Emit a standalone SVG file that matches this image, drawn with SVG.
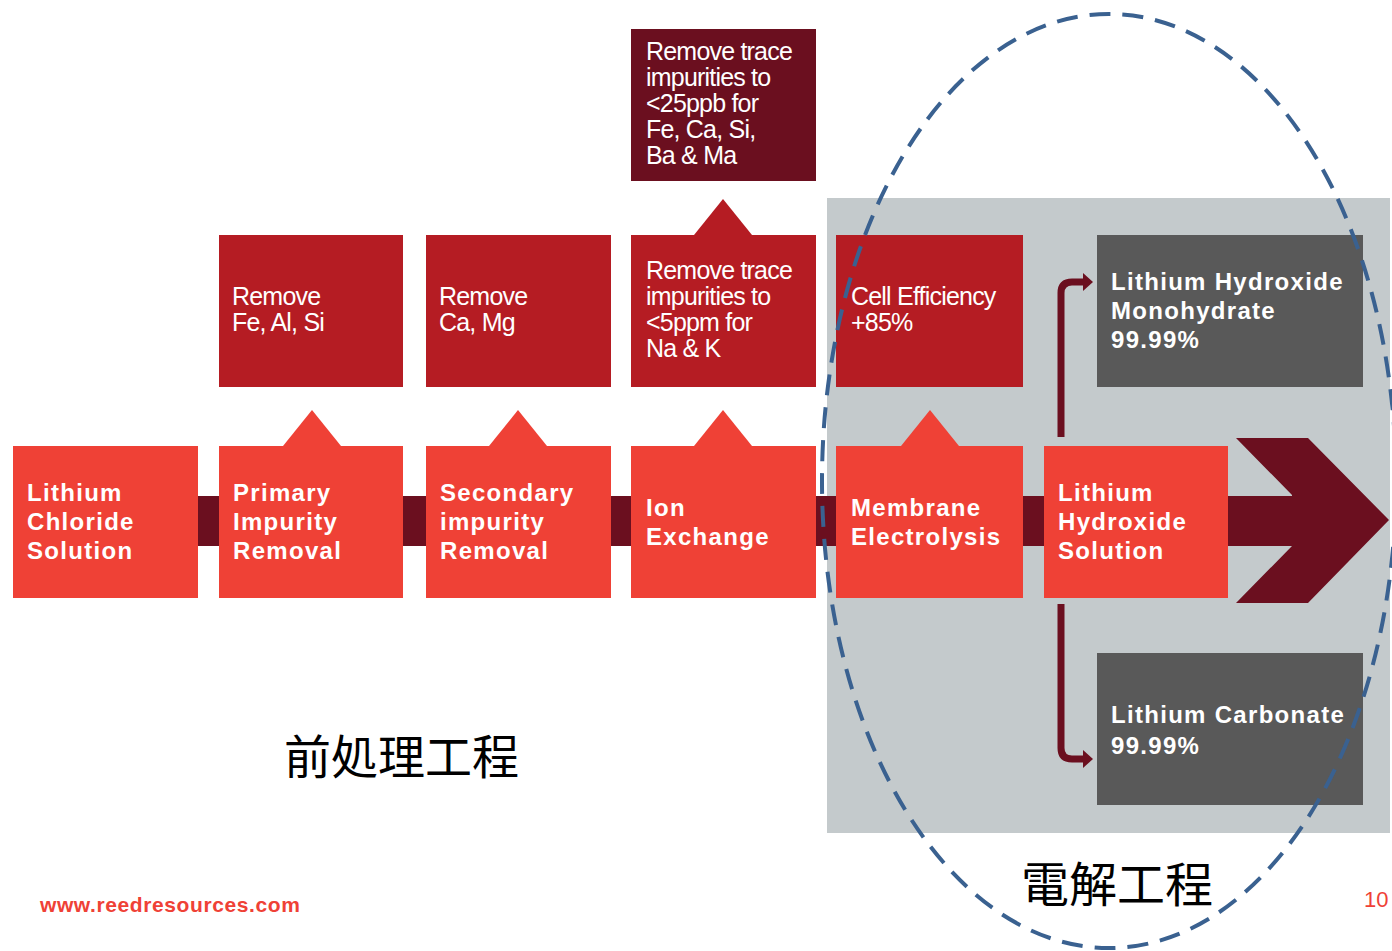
<svg xmlns="http://www.w3.org/2000/svg" width="1392" height="951" viewBox="0 0 1392 951">
<defs>
<style>
.step{fill:#ef4136}
.sub{fill:#b51c23}
.deep{fill:#6b0f1f}
.prod{fill:#595959}
.bt{font-family:"Liberation Sans",Arial,sans-serif;font-weight:bold;font-size:24px;fill:#ffffff;letter-spacing:1.3px}
.rt{font-family:"Liberation Sans",Arial,sans-serif;font-size:25px;fill:#ffffff;letter-spacing:-0.8px}
.cjk{font-family:"Noto Sans CJK JP","Noto Sans CJK SC",sans-serif;fill:#000000}
.conn{fill:none;stroke:#6b0f1f;stroke-width:7}
.foot{font-family:"Liberation Sans",Arial,sans-serif;font-weight:bold;font-size:21px;fill:#ef4136;letter-spacing:0.6px}
.page{font-family:"Liberation Sans",Arial,sans-serif;font-size:22px;fill:#ef4136}
</style>
</defs>
<rect width="1392" height="951" fill="#ffffff"/>
<rect id="electrolysis-area" x="827" y="198" width="563" height="635" fill="#c4cacc"/>
<g id="main-flow">
<rect x="100" y="496" width="1192" height="50" class="deep"/>
<polygon points="1236,438 1308,438 1389,520 1308,603 1236,603 1292,546 1292,495" class="deep"/>
</g>
<g id="connectors">
<path class="conn" d="M1061,437 L1061,293 Q1061,282 1072,282 L1085,282"/>
<polygon points="1083,273 1093,282 1083,291" class="deep"/>
<path class="conn" d="M1061,604 L1061,748 Q1061,759 1072,759 L1085,759"/>
<polygon points="1083,750 1093,759 1083,768" class="deep"/>
</g>
<g id="n-licl">
<rect x="13" y="446" width="185" height="152" class="step"/>
<text class="bt" x="27" y="501">Lithium</text>
<text class="bt" x="27" y="530">Chloride</text>
<text class="bt" x="27" y="559">Solution</text>
</g>
<g id="n-primary">
<rect x="219" y="446" width="184" height="152" class="step"/>
<polygon points="283,446 312,410 341,446" class="step"/>
<text class="bt" x="233" y="501">Primary</text>
<text class="bt" x="233" y="530">Impurity</text>
<text class="bt" x="233" y="559">Removal</text>
</g>
<g id="n-secondary">
<rect x="426" y="446" width="185" height="152" class="step"/>
<polygon points="489,446 518,410 547,446" class="step"/>
<text class="bt" x="440" y="501">Secondary</text>
<text class="bt" x="440" y="530">impurity</text>
<text class="bt" x="440" y="559">Removal</text>
</g>
<g id="n-ion">
<rect x="631" y="446" width="185" height="152" class="step"/>
<polygon points="694,446 723,410 752,446" class="step"/>
<text class="bt" x="646" y="516">Ion</text>
<text class="bt" x="646" y="545">Exchange</text>
</g>
<g id="n-membrane">
<rect x="836" y="446" width="187" height="152" class="step"/>
<polygon points="901,446 930,410 959,446" class="step"/>
<text class="bt" x="851" y="516">Membrane</text>
<text class="bt" x="851" y="545">Electrolysis</text>
</g>
<g id="n-lioh">
<rect x="1044" y="446" width="184" height="152" class="step"/>
<text class="bt" x="1058" y="501">Lithium</text>
<text class="bt" x="1058" y="530">Hydroxide</text>
<text class="bt" x="1058" y="559">Solution</text>
</g>
<g id="n-remove-fe">
<rect x="219" y="235" width="184" height="152" class="sub"/>
<text class="rt" x="232" y="305">Remove</text>
<text class="rt" x="232" y="331">Fe, Al, Si</text>
</g>
<g id="n-remove-ca">
<rect x="426" y="235" width="185" height="152" class="sub"/>
<text class="rt" x="439" y="305">Remove</text>
<text class="rt" x="439" y="331">Ca, Mg</text>
</g>
<g id="n-trace-5ppm">
<rect x="631" y="235" width="185" height="152" class="sub"/>
<polygon points="694,235 723,199 752,235" class="sub"/>
<text class="rt" x="646" y="279">Remove trace</text>
<text class="rt" x="646" y="305">impurities to</text>
<text class="rt" x="646" y="331">&lt;5ppm for</text>
<text class="rt" x="646" y="357">Na &amp; K</text>
</g>
<g id="n-trace-25ppb">
<rect x="631" y="29" width="185" height="152" class="deep"/>
<text class="rt" x="646" y="60">Remove trace</text>
<text class="rt" x="646" y="86">impurities to</text>
<text class="rt" x="646" y="112">&lt;25ppb for</text>
<text class="rt" x="646" y="138">Fe, Ca, Si,</text>
<text class="rt" x="646" y="164">Ba &amp; Ma</text>
</g>
<g id="n-cell">
<rect x="836" y="235" width="187" height="152" class="sub"/>
<text class="rt" x="851" y="305">Cell Efficiency</text>
<text class="rt" x="851" y="331">+85%</text>
</g>
<g id="n-lhm">
<rect x="1097" y="235" width="266" height="152" class="prod"/>
<text class="bt" x="1111" y="290">Lithium Hydroxide</text>
<text class="bt" x="1111" y="319">Monohydrate</text>
<text class="bt" x="1111" y="348">99.99%</text>
</g>
<g id="n-lc">
<rect x="1097" y="653" width="266" height="152" class="prod"/>
<text class="bt" x="1111" y="723">Lithium Carbonate</text>
<text class="bt" x="1111" y="754">99.99%</text>
</g>
<ellipse id="electrolysis-outline" cx="1109" cy="481" rx="287" ry="467" fill="none" stroke="#3a6190" stroke-width="4" stroke-dasharray="21 12"/>
<text class="cjk" x="284" y="774" font-size="47">前処理工程</text>
<text class="cjk" x="1021" y="902" font-size="48">電解工程</text>
<text class="foot" x="40" y="912">www.reedresources.com</text>
<text class="page" x="1364" y="907">10</text>
</svg>
